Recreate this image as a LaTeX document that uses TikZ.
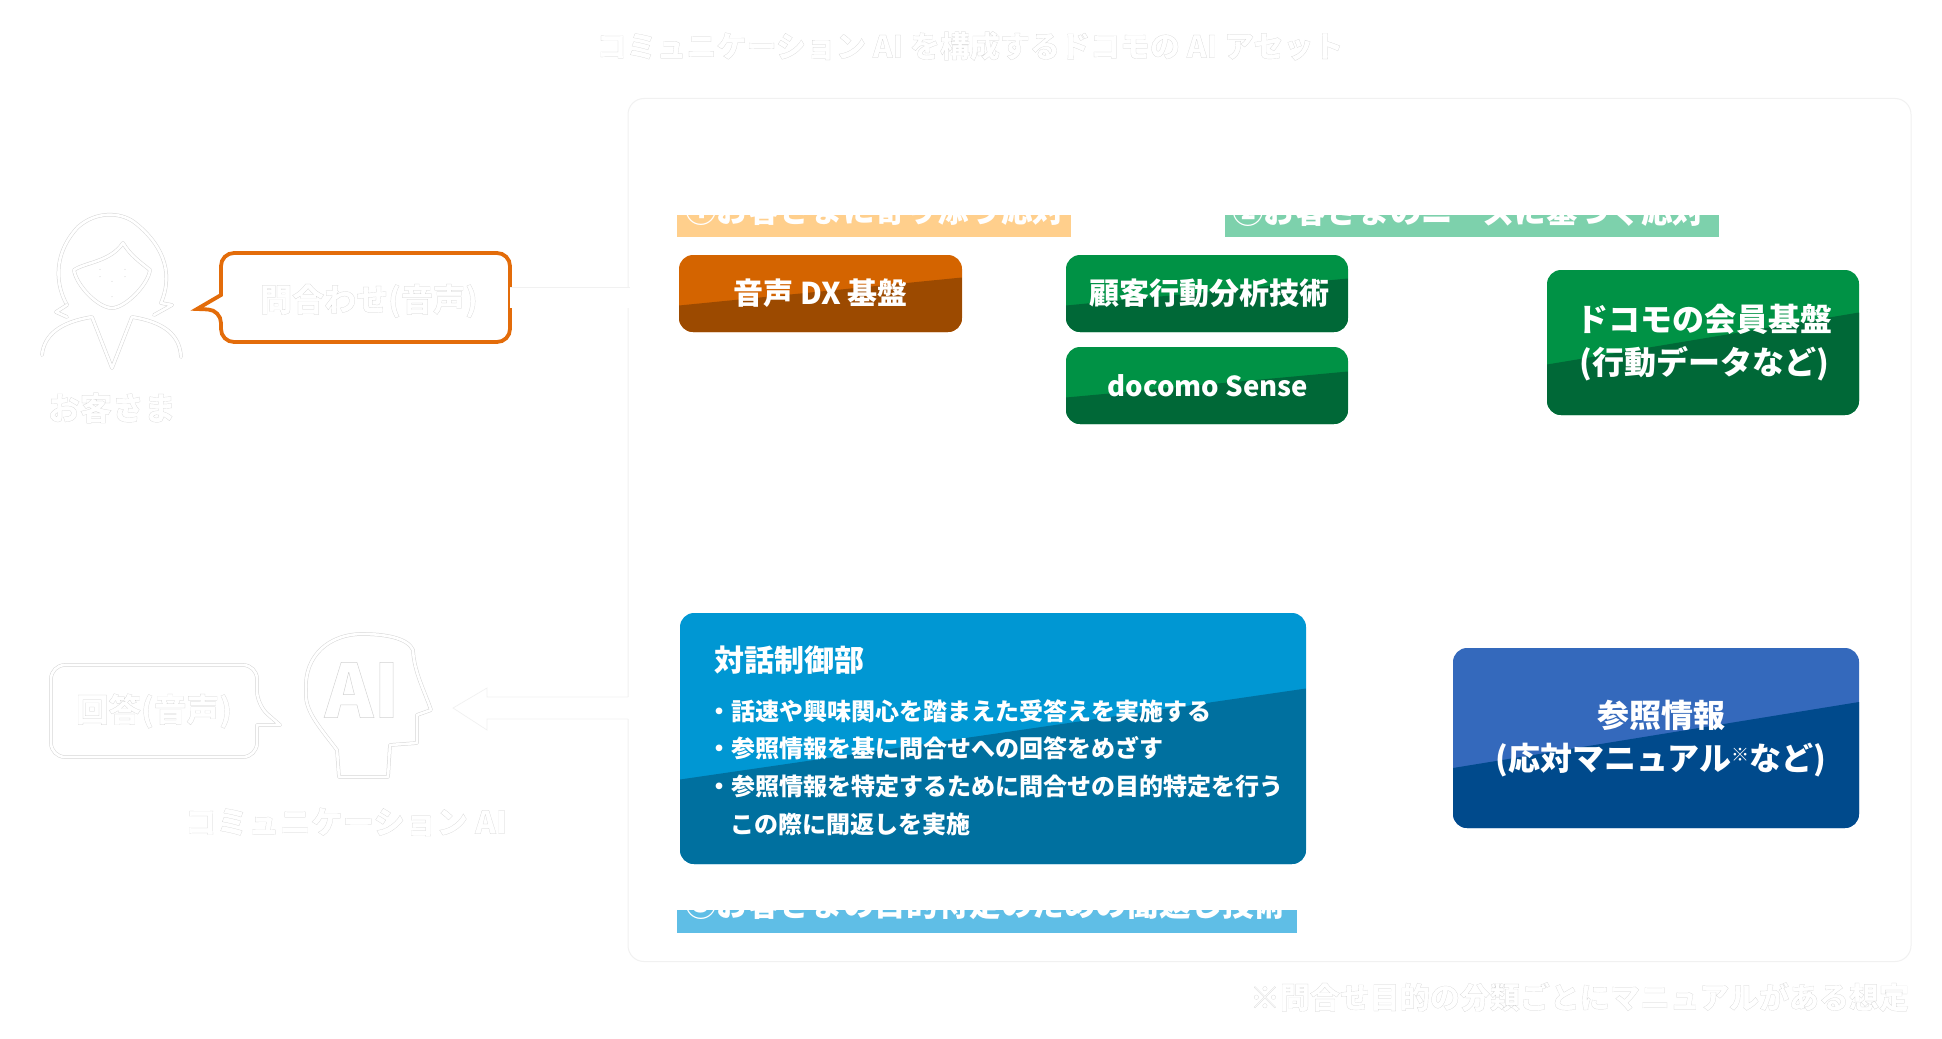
\documentclass[tikz,border=0pt]{standalone}
\usepackage{fontspec}
\setmainfont{Noto Sans CJK JP}
\newfontfamily\halofont[FakeBold=0.6]{Noto Sans CJK JP}
\usetikzlibrary{calc}
\definecolor{edgec}{HTML}{F1F1F1}
\definecolor{haloc}{HTML}{D6D6D6}
\definecolor{bubbleor}{HTML}{E36C0A}
\newcommand{\fsz}[1]{\fontsize{#1}{#1}\selectfont}
\newcommand{\halotxt}[2]{{\halofont\bfseries\fsz{#1}\special{pdf:code 0.82 0.82 0.82 RG}#2}}
\tikzset{
  x=1pt,y=-1pt,
  every node/.style={inner sep=0pt,outer sep=0pt,text=white},
  duo/.style={rectangle,rounded corners=14pt},
  duotext/.style={align=center,font=\bfseries\fsz{30}},
  split/.style n args={4}{path picture={\fill[#1,sharp corners] (-#2,#3) -- (#2,#4) -- (#2,300) -- (-#2,300) -- cycle;}},
  iconline/.style={draw=haloc,line width=.5pt,double=white,double distance=2.6pt,line cap=round,line join=round},
  halo/.style={anchor=center,text=white},
}
\definecolor{orT}{RGB}{212,100,0}\definecolor{orB}{RGB}{156,74,0}
\definecolor{grT}{RGB}{0,146,69}\definecolor{grB}{RGB}{0,104,55}
\definecolor{blT}{RGB}{0,151,211}\definecolor{blB}{RGB}{0,112,159}
\definecolor{nvT}{RGB}{52,105,188}\definecolor{nvB}{RGB}{0,74,140}
\definecolor{stO}{RGB}{255,207,140}\definecolor{stG}{RGB}{125,209,172}\definecolor{stB}{RGB}{95,190,230}
\begin{document}
\begin{tikzpicture}
\useasboundingbox (0,0) rectangle (1942,1038);
\fill[white] (0,0) rectangle (1942,1038);

% title
\node[halo] (title) at (970,46) {\halotxt{30}{コミュニケーション AI を構成するドコモの AI アセット}};

% panel
\node[draw=edgec,line width=1pt,fill=white,rounded corners=16pt,minimum width=1283pt,minimum height=863pt] (panel) at (1269.5,530) {};

% strips
\fill[stO] (677,215) rectangle (1071,237);
\fill[stG] (1225,215) rectangle (1719,237);
\fill[stB] (677,910) rectangle (1297,933);
\node[anchor=west,font=\bfseries\fsz{31.6}] (s1) at (685,211) {①お客さまに寄り添う応対};
\node[anchor=west,font=\bfseries\fsz{31.6}] (s2) at (1232,211) {②お客さまのニーズに基づく応対};
\node[anchor=west,font=\bfseries\fsz{31.6}] (s3) at (685,905) {③お客さまの目的特定のための聞返し技術};

% two tone boxes
\node[duo,fill=orT,minimum width=283pt,minimum height=77pt,split={orB}{141.5}{12}{-16}] (dx) at (820.5,293.5) {};
\node[duotext] (dxT) at (dx.center) {音声 DX 基盤};
\node[duo,fill=grT,minimum width=282pt,minimum height=77pt,split={grB}{141}{12}{-15}] (cust) at (1207,293.5) {};
\node[duotext] (custBoxT) at ($(cust.center)+(2.5,0)$) {顧客行動分析技術};
\node[duo,fill=grT,minimum width=282pt,minimum height=77pt,split={grB}{141}{12}{-14}] (sense) at (1207,385.5) {};
\node[duotext,font=\bfseries\fsz{27.5}] (senseT) at ($(sense.center)+(1,0)$) {docomo Sense};
\node[duo,fill=grT,minimum width=312pt,minimum height=145pt,split={grB}{156}{22}{-30}] (member) at (1703,342.5) {};
\node[duotext,font=\bfseries\fsz{32}] (memberT) at (1704,343) {ドコモの会員基盤\\[11pt](行動データなど)};
\node[duo,fill=blT,minimum width=626pt,minimum height=251pt,split={blB}{313}{41}{-50}] (ctrl) at (993,738.5) {};
\node[anchor=west,font=\bfseries\fsz{30}] (ctrlT) at (714,660) {対話制御部};
\node[anchor=west,font=\bfseries\fsz{24}] (c1) at (707,711) {・話速や興味関心を踏まえた受答えを実施する};
\node[anchor=west,font=\bfseries\fsz{24}] (c2) at (707,748) {・参照情報を基に問合せへの回答をめざす};
\node[anchor=west,font=\bfseries\fsz{24}] (c3) at (707,786) {・参照情報を特定するために問合せの目的特定を行う};
\node[anchor=west,font=\bfseries\fsz{24}] (c4) at (730,824) {この際に聞返しを実施};
\node[duo,fill=nvT,minimum width=406pt,minimum height=180pt,split={nvB}{203}{30}{-36}] (ref) at (1656,738) {};
\node[duotext,font=\bfseries\fsz{32}] (refT) at (1661,739) {参照情報\\[11pt](応対マニュアル{\fsz{18}\raisebox{9pt}{※}}など)};

% customer bubble
\node[minimum width=289pt,minimum height=89pt] (q) at (365.5,297.5) {};
\node[halo] (qT) at (369,301) {\halotxt{32}{問合わせ(音声)}};
\draw[bubbleor,line width=3.8pt,fill=none,line join=miter,rounded corners=13pt] (q.south west) -- (221,310) [sharp corners] -- (197,309) -- (221,295) [rounded corners=13pt] -- (q.north west) -- (q.north east) -- (q.south east) -- cycle;

% connectors (white bands)
\draw[draw=edgec,line width=.7pt,double=white,double distance=20pt,shorten >=-1.5pt] (q.east) -- (q.east -| panel.west);
\coordinate (tip) at (453,708);
\coordinate (pa) at (panel.west |- tip);
\fill[white] ($(pa)+(1.5,-11)$) -- (487,697) -- (487,688) -- (tip) -- (487,730) -- (487,719) -- ($(pa)+(1.5,11)$) -- cycle;
\draw[edgec,line width=.7pt] ($(pa)+(0,-11)$) -- (487,697) -- (487,688) -- (tip) -- (487,730) -- (487,719) -- ($(pa)+(0,11)$);

% person
\draw[iconline] (67,305) .. controls (53,280) and (56,250) .. (78,227) .. controls (96,211) and (120,212) .. (134,222) .. controls (160,242) and (175,270) .. (161,303) -- (172,305) -- (154,315);
\draw[iconline] (67,305) -- (56,312) -- (67,317);
\draw[iconline] (74,270) .. controls (86,262) and (110,262) .. (123,243) .. controls (130,255) and (140,262) .. (150,270) .. controls (148,285) and (125,308) .. (112,308) .. controls (98,308) and (76,285) .. (74,270) -- cycle;
\draw[iconline] (42,355) .. controls (44,335) and (60,322) .. (92,317) -- (112,368) -- (132,317) .. controls (164,322) and (180,335) .. (181,357);
\draw[iconline,double distance=1.5pt] (100,270) -- (100,276);
\draw[iconline,double distance=1.5pt] (125,270) -- (125,276);
\draw[iconline,double distance=1.5pt] (112,282) -- (112,296);
\node[halo] (custT) at (112,408) {\halotxt{32}{お客さま}};

% answer bubble
\node[minimum width=206pt,minimum height=92pt] (ans) at (154,711) {\halotxt{32.5}{回答(音声)}};
\draw[iconline,rounded corners=14pt] (ans.south west) -- (ans.north west) -- (ans.north east) -- (257,705) [sharp corners] -- (280,725) -- (257,725) [rounded corners=14pt] -- (ans.south east) -- cycle;

% AI head
\draw[iconline] (339,777) -- (337,750) .. controls (318,725) and (304,710) .. (306,690) .. controls (304,655) and (330,634) .. (362,634) .. controls (385,634) and (408,638) .. (413,650) .. controls (414,672) and (425,692) .. (431,710) -- (417,715) -- (417,743) -- (390,745) -- (388,777) -- cycle;
\node[halo] (aiT) at (362,690) {\halotxt{74}{AI}};
\node[halo] (aiL) at (346,822) {\halotxt{31.5}{コミュニケーション AI}};

% footnote
\node[anchor=east] (fn) at (1909,997) {\halotxt{30}{※問合せ目的の分類ごとにマニュアルがある想定}};
\end{tikzpicture}
\end{document}
